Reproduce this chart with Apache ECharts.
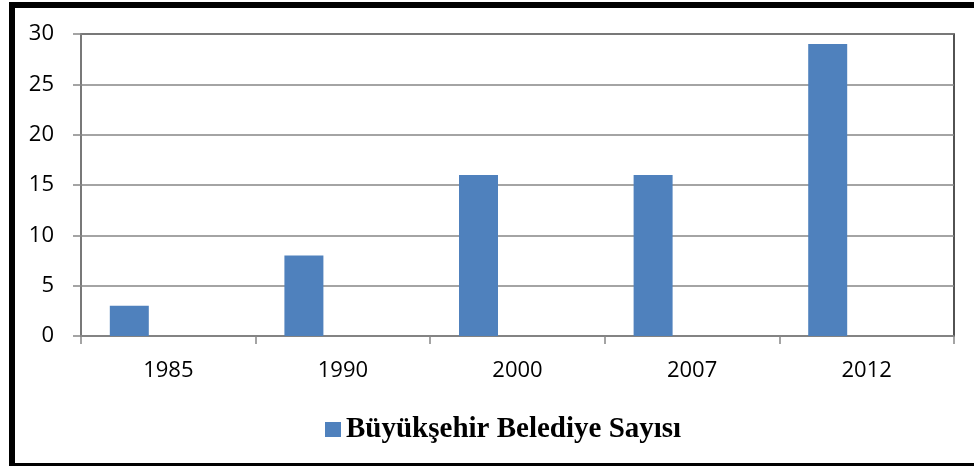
<!DOCTYPE html>
<html>
<head>
<meta charset="utf-8">
<script src="https://cdn.jsdelivr.net/npm/echarts@6/dist/echarts.min.js"></script>
<style>
  html, body { margin: 0; padding: 0; background: #fff; }
  #chart { width: 974px; height: 466px; }
</style>
</head>
<body>
<div id="chart"></div>
<script>
const years = ['1985', '1990', '2000', '2007', '2012'];
const seriesName = 'Büyükşehir Belediye Sayısı';
const counts = [3, 8, 16, 16, 29];
const emptySlots = ['-', '-', '-', '-', '-'];
const yTicks = { min: 0, max: 30, interval: 5 };

const axisGray = '#868686';
const barBlue = '#4F81BD';

const chart = echarts.init(document.getElementById('chart'));
chart.setOption({
  animation: false,
  backgroundColor: '#fff',
  graphic: [{
    type: 'rect',
    shape: { x: 12, y: 5, width: 1000, height: 461 },
    style: { fill: 'none', stroke: '#000', lineWidth: 6 },
    silent: true
  }],
  grid: {
    left: 81, right: 20, top: 34, bottom: 130,
    show: true, borderColor: '#1a1a1a', borderWidth: 1.5
  },
  legend: {
    data: [seriesName],
    left: 320, top: 410,
    icon: 'rect', itemWidth: 16, itemHeight: 15,
    textStyle: {
      fontFamily: 'Liberation Serif', fontWeight: 'bold',
      fontSize: 29, color: '#000'
    }
  },
  xAxis: {
    type: 'category',
    data: years,
    axisLine: { lineStyle: { color: axisGray, width: 1.5 } },
    axisTick: { show: true, length: 8, lineStyle: { color: axisGray, width: 1.5 } },
    axisLabel: { color: '#000', fontFamily: 'Open Sans', fontSize: 22, margin: 24 }
  },
  yAxis: {
    type: 'value',
    min: yTicks.min, max: yTicks.max, interval: yTicks.interval,
    axisLine: { show: true, lineStyle: { color: axisGray, width: 1.5 } },
    axisTick: { show: true, length: 8, lineStyle: { color: axisGray, width: 1.5 } },
    splitLine: { lineStyle: { color: axisGray, width: 1.5 } },
    axisLabel: { color: '#000', fontFamily: 'Open Sans', fontSize: 22, margin: 27 }
  },
  series: [
    { name: seriesName, type: 'bar', data: counts, barGap: 0, barCategoryGap: '33%',
      itemStyle: { color: barBlue } },
    { name: 'b', type: 'bar', data: emptySlots, barGap: 0, barCategoryGap: '33%' },
    { name: 'c', type: 'bar', data: emptySlots, barGap: 0, barCategoryGap: '33%' }
  ]
});
</script>
</body>
</html>
